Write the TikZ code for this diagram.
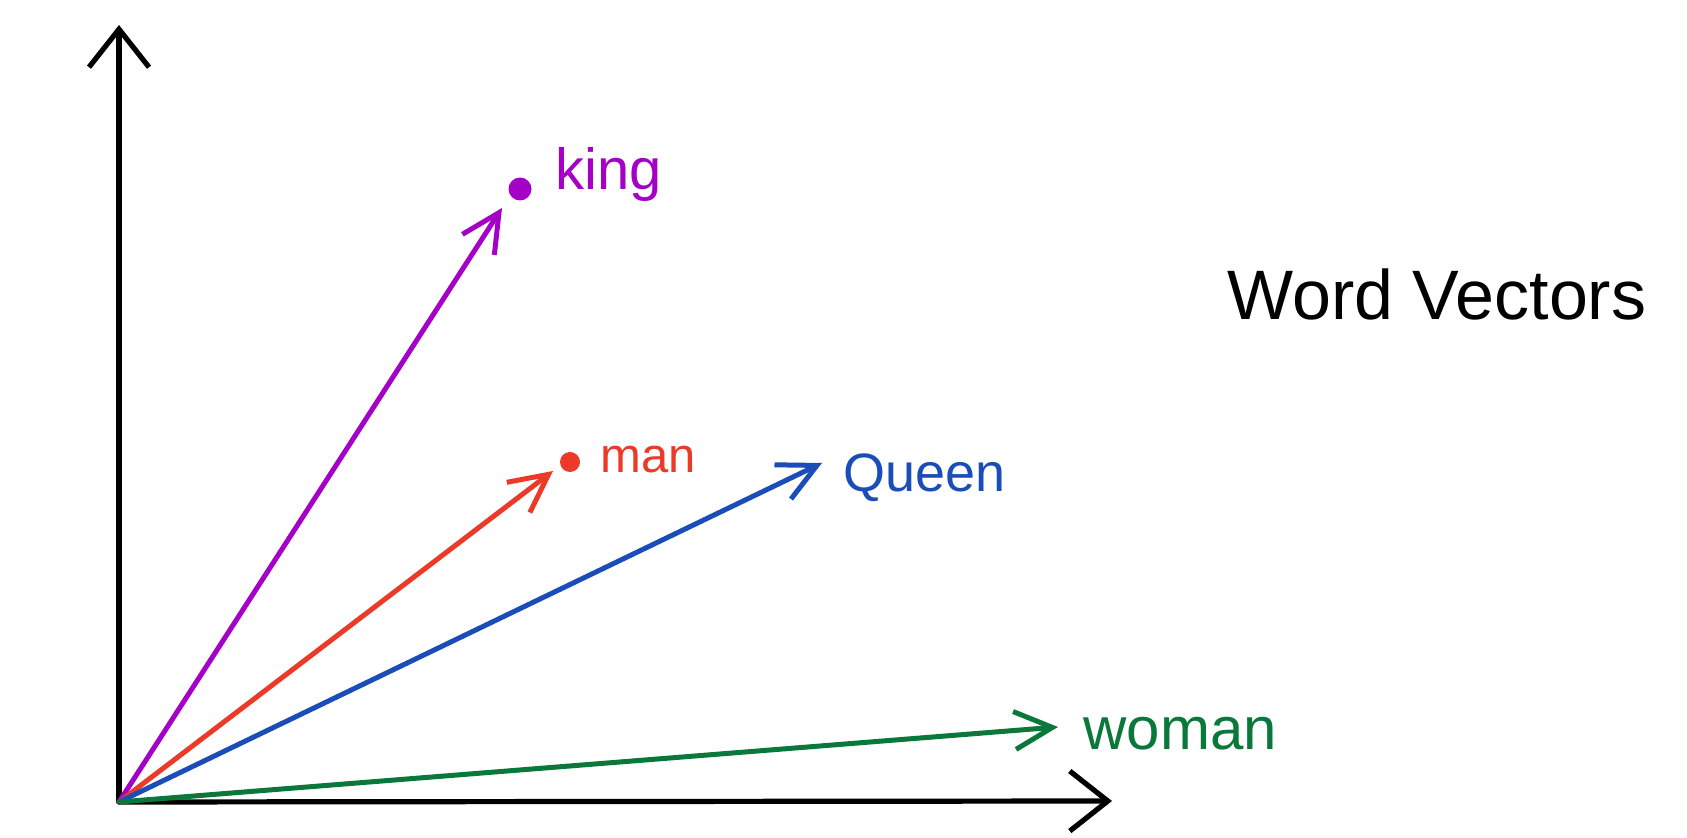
\documentclass[tikz,border=0pt]{standalone}
\usepackage{fontspec}
\setmainfont{Liberation Sans}
\usetikzlibrary{arrows.meta}
\definecolor{kingc}{RGB}{165,0,200}
\definecolor{manc}{RGB}{235,58,40}
\definecolor{queenc}{RGB}{27,77,184}
\definecolor{womanc}{RGB}{10,120,58}
\begin{document}
\begin{tikzpicture}[x=0.5pt,y=-0.5pt,
  axis/.style={line width=2.6pt, line cap=round, -{Straight Barb[length=19pt,width=30pt]}},
  vec/.style={line width=2.5pt, line cap=round, -{Straight Barb[length=19pt,width=19pt]}},
  lab/.style={inner sep=0pt, anchor=base west},
  dotst/.style={circle, inner sep=0pt}]
\useasboundingbox (0,0) rectangle (1687,838);
\fill[white] (0,0) rectangle (1687,838);
\coordinate (O) at (119,802);
\coordinate (ytop) at (119,25);
\coordinate (xend) at (1112,801);
\coordinate (kingtip) at (502,208);
\coordinate (mantip) at (553,471);
\coordinate (queentip) at (822,463);
\coordinate (womantip) at (1058,727);
% axes
\draw[axis] (O) -- (ytop);
\draw[axis] (O) -- (xend);
% vectors
\draw[vec, kingc] (O) -- (kingtip);
\draw[vec, manc] (O) -- (mantip);
\draw[vec, queenc] (O) -- (queentip);
\draw[vec, womanc] (O) -- (womantip);
% dots
\node[dotst, fill=kingc, minimum size=11.5pt] (kingdot) at (520,189) {};
\node[dotst, fill=manc, minimum size=10pt] (mandot) at (570,462) {};
% labels
\node[lab, text=kingc, font=\fontsize{29}{32}\selectfont] (kinglab) at (555,190) {king};
\node[lab, text=manc, font=\fontsize{24.5}{28}\selectfont] (manlab) at (600,473) {man};
\node[lab, text=queenc, font=\fontsize{27}{30}\selectfont] (queenlab) at (843,492) {Queen};
\node[lab, text=womanc, font=\fontsize{30}{33}\selectfont] (womanlab) at (1083,750) {woman};
\node[lab, text=black, font=\fontsize{35}{38}\selectfont] (title) at (1227,320) {Word Vectors};
\end{tikzpicture}
\end{document}
